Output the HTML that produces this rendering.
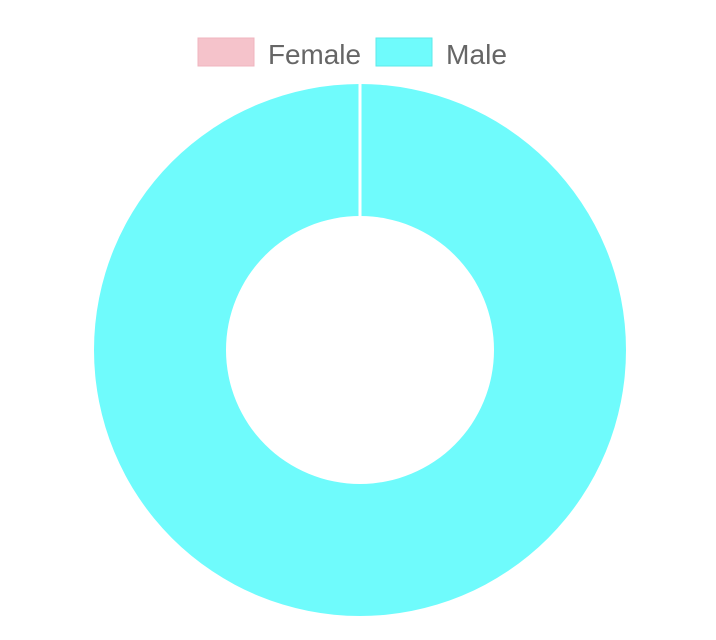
<!DOCTYPE html>
<html><head><meta charset="utf-8"><style>
html,body{margin:0;padding:0;background:#fff;width:716px;height:640px;overflow:hidden}
svg{display:block}
text{font-family:"Liberation Sans",sans-serif}
</style></head><body>
<svg id="chart" width="716" height="640">
  <g>
    <rect x="198" y="38" width="56" height="28" fill="#f5c3cb" stroke="#f0b5bf"/>
    <text x="268" y="64" font-size="28" fill="#666" textLength="93" lengthAdjust="spacingAndGlyphs">Female</text>
    <rect x="376" y="38" width="56" height="28" fill="#6ffbfc" stroke="#5ee9ea"/>
    <text x="446" y="64" font-size="28" fill="#666" textLength="61" lengthAdjust="spacingAndGlyphs">Male</text>
  </g>
  <g id="slices"></g>
</svg>
<script>
const labels = ["Female", "Male"];
const values = [0, 100];
const colors = ["#f5c3cb", "#6ffbfc"];
const cx = 360, cy = 350, rOut = 266, rIn = 134;
const g = document.getElementById('slices');
const total = values.reduce((a, b) => a + b, 0);
let start = -Math.PI / 2;
const ns = 'http://www.w3.org/2000/svg';
function pt(r, a) { return [cx + r * Math.cos(a), cy + r * Math.sin(a)]; }
values.forEach((v, i) => {
  const sweep = total ? v / total * 2 * Math.PI : 0;
  const end = start + sweep;
  let el;
  if (sweep >= 2 * Math.PI - 1e-6) {
    el = document.createElementNS(ns, 'path');
    const d = `M${cx - rOut},${cy} a${rOut},${rOut} 0 1,0 ${2*rOut},0 a${rOut},${rOut} 0 1,0 ${-2*rOut},0 Z ` +
              `M${cx - rIn},${cy} a${rIn},${rIn} 0 1,1 ${2*rIn},0 a${rIn},${rIn} 0 1,1 ${-2*rIn},0 Z`;
    el.setAttribute('d', d);
    el.setAttribute('fill-rule', 'evenodd');
  } else if (sweep > 0) {
    el = document.createElementNS(ns, 'path');
    const large = sweep > Math.PI ? 1 : 0;
    const [x1, y1] = pt(rOut, start), [x2, y2] = pt(rOut, end);
    const [x3, y3] = pt(rIn, end), [x4, y4] = pt(rIn, start);
    el.setAttribute('d', `M${x1},${y1} A${rOut},${rOut} 0 ${large},1 ${x2},${y2} L${x3},${y3} A${rIn},${rIn} 0 ${large},0 ${x4},${y4} Z`);
  }
  if (el) {
    el.setAttribute('fill', colors[i]);
    
    
    g.appendChild(el);
  }
  const [a1, b1] = pt(rIn, start), [a2, b2] = pt(rOut, start);
  const ln = document.createElementNS(ns, 'line');
  ln.setAttribute('x1', a1); ln.setAttribute('y1', b1);
  ln.setAttribute('x2', a2); ln.setAttribute('y2', b2);
  ln.setAttribute('stroke', '#fff'); ln.setAttribute('stroke-width', '3');
  
  
  g.appendChild(ln);
  start = end;
});
</script>
</body></html>
